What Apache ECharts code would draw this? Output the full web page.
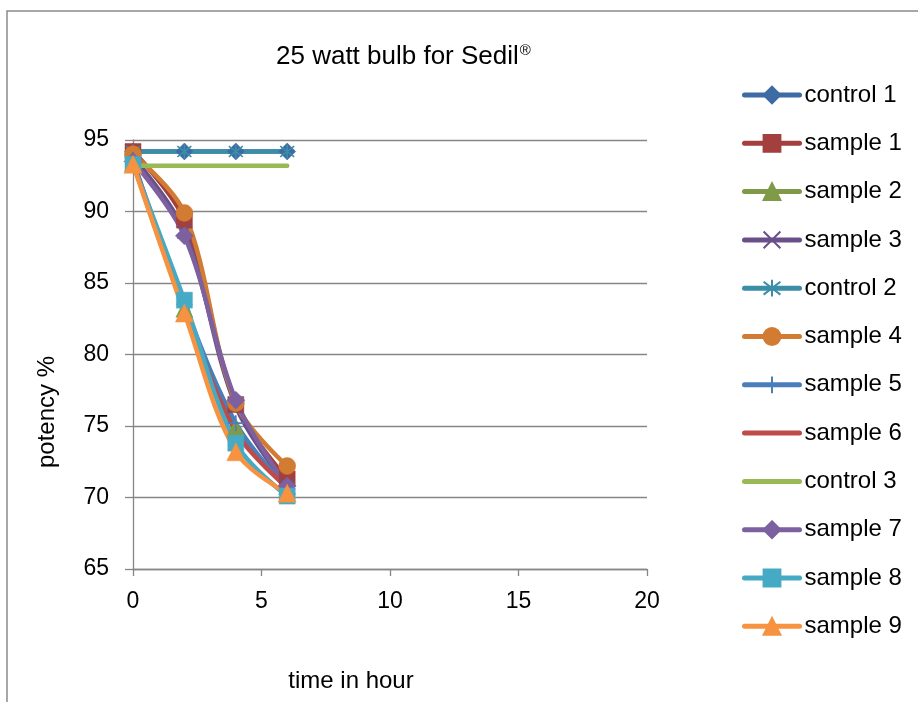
<!DOCTYPE html>
<html>
<head>
<meta charset="utf-8">
<script src="https://cdn.jsdelivr.net/npm/echarts@6/dist/echarts.min.js"></script>
<style>html,body{margin:0;padding:0;background:#fff;}#c{width:918px;height:702px;}</style>
</head>
<body>
<div id="c"></div>
<script>
var times = [0, 2, 4, 6];
var seriesNames = ['control 1','sample 1','sample 2','sample 3','control 2','sample 4','sample 5','sample 6','control 3','sample 7','sample 8','sample 9'];
var control1 = [94.2, 94.2, 94.2, 94.2];
var sample1  = [94.2, 89.4, 76.5, 71.3];
var sample2  = [93.4, 83.2, 74.9, 70.8];
var sample3  = [93.8, 88.6, 76.4, 70.8];
var control2 = [94.2, 94.2, 94.2, 94.2];
var sample4  = [94.0, 89.9, 76.6, 72.2];
var sample5  = [93.6, 83.5, 75.2, 70.6];
var sample6  = [93.5, 83.3, 74.6, 70.7];
var control3 = [93.2, 93.2, 93.2, 93.2];
var sample7  = [93.5, 88.3, 76.8, 70.8];
var sample8  = [93.3, 83.8, 73.8, 70.1];
var sample9  = [93.3, 82.9, 73.2, 70.3];
var xTicks = [0, 5, 10, 15, 20];
var yTicks = [65, 70, 75, 80, 85, 90, 95];

var values = [control1, sample1, sample2, sample3, control2, sample4, sample5, sample6, control3, sample7, sample8, sample9];
var colors = ['#3D6BA4','#A33F3C','#7F9B48','#6A5089','#3A8FA7','#D27B32','#4A7EBB','#BE4B48','#98B954','#7D60A0','#46AAC5','#F69240'];
var symbols = ['diamond','rect','triangle','path://M0 0L10 10M10 0L0 10','path://M0 0L10 10M10 0L0 10M5 -1.5L5 11.5','circle','path://M5 0L5 10M0 5L10 5','none','none','diamond','rect','triangle'];
var sizes = [17, 16, 17, 14, 14, 17, 16, 0, 0, 18, 16, 18];
var FONT = 'Liberation Sans';

var series = seriesNames.map(function (name, i) {
  var isPath = symbols[i].indexOf('path://') === 0;
  return {
    name: name,
    type: 'line',
    smooth: 0.35,
    data: times.map(function (t, k) { return [t, values[i][k]]; }),
    symbol: symbols[i],
    symbolSize: sizes[i],
    showSymbol: symbols[i] !== 'none',
    lineStyle: { color: colors[i], width: 4.5, cap: 'round' },
    itemStyle: isPath ? { color: 'none', borderColor: colors[i], borderWidth: 1.6 } : { color: colors[i], borderColor: colors[i], borderWidth: 0.5 },
    emphasis: { disabled: true },
    animation: false
  };
});

var legendData = seriesNames.map(function (name, i) {
  var item = { name: name, lineStyle: { color: colors[i], width: 5, cap: 'round' } };
  if (symbols[i] === 'none') item.itemStyle = { opacity: 0 };
  return item;
});

var chart = echarts.init(document.getElementById('c'));
chart.setOption({
  animation: false,
  backgroundColor: '#ffffff',
  color: colors,
  title: {
    text: '25 watt bulb for Sedil{s|®}',
    left: 271,
    top: 38,
    textStyle: {
      fontFamily: FONT, fontSize: 26, fontWeight: 'normal', color: '#000',
      rich: { s: { fontFamily: FONT, fontSize: 15, color: '#000', verticalAlign: 'top', padding: [0, 0, 12, 1] } }
    }
  },
  legend: {
    orient: 'vertical',
    left: 742,
    top: 83,
    padding: 0,
    itemWidth: 55,
    itemHeight: 21,
    itemGap: 24.3,
    selectedMode: false,
    data: legendData,
    textStyle: { fontFamily: FONT, fontSize: 24, color: '#000' }
  },
  grid: { left: 133, right: 271, top: 140, bottom: 133, containLabel: false },
  xAxis: {
    type: 'value', min: xTicks[0], max: xTicks[xTicks.length - 1], interval: 5,
    axisLine: { show: true, lineStyle: { color: '#868686', width: 1.3 } },
    axisTick: { show: true, length: 7, lineStyle: { color: '#868686', width: 1.3 } },
    splitLine: { show: false },
    axisLabel: { fontFamily: FONT, fontSize: 23, color: '#000', margin: 21 }
  },
  yAxis: {
    type: 'value', min: yTicks[0], max: yTicks[yTicks.length - 1], interval: 5,
    axisLine: { show: true, lineStyle: { color: '#868686', width: 1.3 } },
    axisTick: { show: true, length: 8, lineStyle: { color: '#868686', width: 1.3 } },
    splitLine: { show: true, lineStyle: { color: '#868686', width: 1.3 } },
    axisLabel: { fontFamily: FONT, fontSize: 23, color: '#000', margin: 24 }
  },
  graphic: [
    { type: 'polyline', shape: { points: [[7, 702], [7, 11], [918, 11]] }, style: { stroke: '#8a8a8a', lineWidth: 1.5, fill: null }, silent: true },
    { type: 'text', x: 351, y: 681, style: { text: 'time in hour', fontFamily: FONT, fontSize: 24, fill: '#000', align: 'center', verticalAlign: 'middle' } },
    { type: 'text', x: 47, y: 412, rotation: Math.PI / 2, style: { text: 'potency %', fontFamily: FONT, fontSize: 24, fill: '#000', align: 'center', verticalAlign: 'middle' } }
  ],
  series: series
});
</script>
</body>
</html>
